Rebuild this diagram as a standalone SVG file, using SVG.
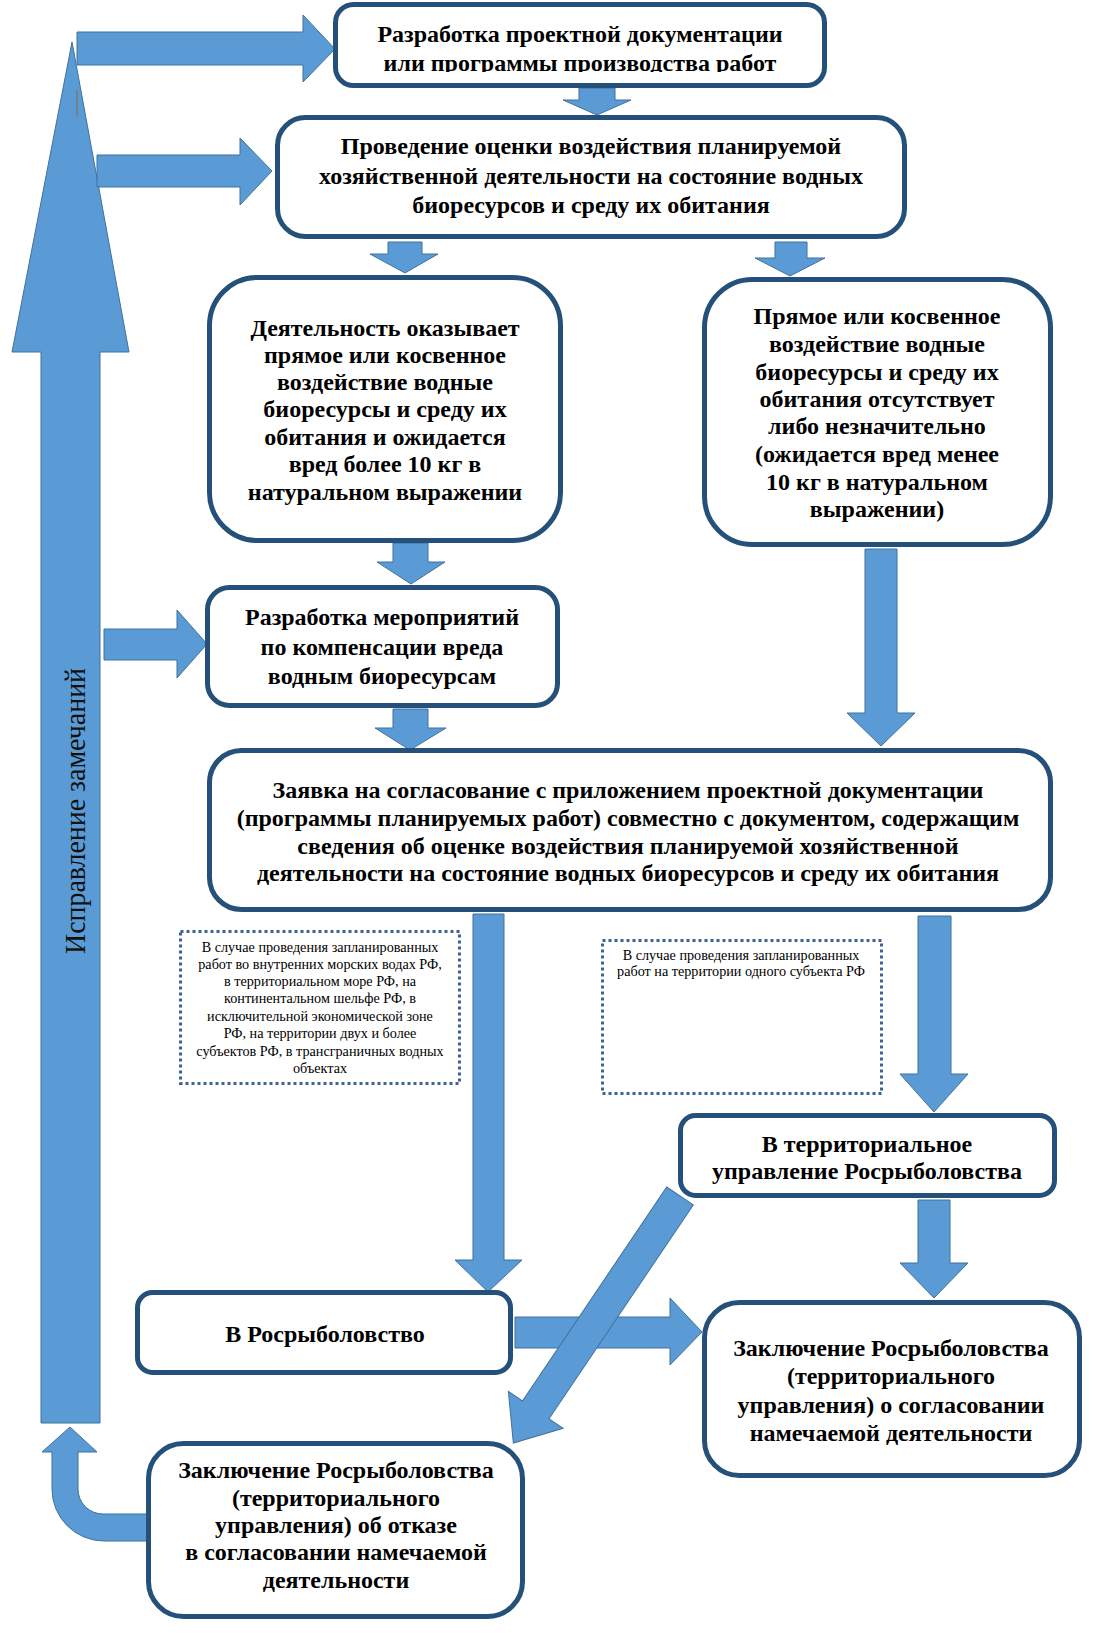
<svg xmlns="http://www.w3.org/2000/svg" width="1108" height="1633" viewBox="0 0 1108 1633">
<defs>
<style>
.box{fill:#fff;stroke:#24507a;stroke-width:5}
.arr{fill:#5b9bd5;stroke:#41719c;stroke-width:1}
.t{font-family:"Liberation Serif","Times New Roman",serif;font-weight:bold;font-size:24px;text-anchor:middle;fill:#000}
.s{font-family:"Liberation Serif","Times New Roman",serif;font-size:14.2px;text-anchor:middle;fill:#000}
.dot{fill:none;stroke:#3d6394;stroke-width:3;stroke-dasharray:3 3}
</style>
<clipPath id="c1"><rect x="330" y="0" width="500" height="72"/></clipPath>
</defs>
<rect width="1108" height="1633" fill="#fff"/>
<g id="connectors">
<polygon class="arr" points="72,42 129,352 100,352 100,1423 41,1423 41,352 12,352"/>
<text transform="translate(85,811) rotate(-90)" font-family="Liberation Serif, Times New Roman, serif" font-size="29" text-anchor="middle" fill="#111" textLength="286" lengthAdjust="spacingAndGlyphs">Исправление замечаний</text>
<line x1="77" y1="90" x2="77" y2="117" stroke="#8b6b4a" stroke-width="1"/>
<polygon class="arr" points="77,32 303,32 303,15 335,49 303,82 303,65 77,65"/>
<polygon class="arr" points="97,155 240,155 240,138 272,171 240,205 240,187 97,187"/>
<polygon class="arr" points="104,629 177,629 177,610 207,644 177,678 177,660 104,660"/>
<polygon class="arr" points="579,88 615,88 615,100 631,100 597,115 563,100 579,100"/>
<polygon class="arr" points="388,242 422,242 422,254 438,254 405,273 370,254 388,254"/>
<polygon class="arr" points="775,242 807,242 807,258 825,258 790,276 755,258 775,258"/>
<polygon class="arr" points="393,543 428,543 428,562 445,562 411,584 377,562 393,562"/>
<polygon class="arr" points="393,709 428,709 428,728 446,728 410,750 375,728 393,728"/>
<polygon class="arr" points="865,549 897,549 897,713 915,713 881,746 847,713 865,713"/>
<polygon class="arr" points="473,914 504,914 504,1260 522,1260 488,1292 455,1260 473,1260"/>
<polygon class="arr" points="918,916 951,916 951,1074 968,1074 934,1112 900,1074 918,1074"/>
<polygon class="arr" points="918,1200 950,1200 950,1263 968,1263 934,1298 900,1263 918,1263"/>
<polygon class="arr" points="515,1317 670,1317 670,1298 702,1332 670,1365 670,1348 515,1348"/>
<polygon class="arr" transform="translate(680,1196) rotate(124)" points="0,-16 258,-16 258,-33 298,0 258,33 258,16 0,16"/>
<path class="arr" d="M148,1514 L103,1514 A25,25 0 0 1 78,1489 L78,1452 L97,1452 L70,1427 L42,1452 L52,1452 L52,1489 A52,52 0 0 0 104,1541 L148,1541 Z"/>
</g>
<g id="n1">
<rect class="box" x="335.5" y="4.5" width="489" height="81" rx="18"/>
<text class="t" x="580" y="42">Разработка проектной документации</text>
<text class="t" x="580" y="71" clip-path="url(#c1)">или программы производства работ</text>
</g>
<g id="n2">
<rect class="box" x="277.5" y="117.5" width="627" height="119" rx="28"/>
<text class="t" x="591" y="154">Проведение оценки воздействия планируемой</text>
<text class="t" x="591" y="184">хозяйственной деятельности на состояние водных</text>
<text class="t" x="591" y="213">биоресурсов и среду их обитания</text>
</g>
<g id="n3">
<rect class="box" x="209.5" y="277.5" width="351" height="263" rx="48"/>
<text class="t" x="385" y="336">Деятельность оказывает</text>
<text class="t" x="385" y="363">прямое или косвенное</text>
<text class="t" x="385" y="390">воздействие водные</text>
<text class="t" x="385" y="417">биоресурсы и среду их</text>
<text class="t" x="385" y="445">обитания и ожидается</text>
<text class="t" x="385" y="472">вред более 10 кг в</text>
<text class="t" x="385" y="500">натуральном выражении</text>
</g>
<g id="n4">
<rect class="box" x="704.5" y="279.5" width="346" height="265" rx="48"/>
<text class="t" x="877" y="324">Прямое или косвенное</text>
<text class="t" x="877" y="352">воздействие водные</text>
<text class="t" x="877" y="380">биоресурсы и среду их</text>
<text class="t" x="877" y="407">обитания отсутствует</text>
<text class="t" x="877" y="434">либо незначительно</text>
<text class="t" x="877" y="462">(ожидается вред менее</text>
<text class="t" x="877" y="490">10 кг в натуральном</text>
<text class="t" x="877" y="517">выражении)</text>
</g>
<g id="n5">
<rect class="box" x="207.5" y="587.5" width="350" height="118" rx="22"/>
<text class="t" x="382" y="625">Разработка мероприятий</text>
<text class="t" x="382" y="655">по компенсации вреда</text>
<text class="t" x="382" y="684">водным биоресурсам</text>
</g>
<g id="n6">
<rect class="box" x="209.5" y="750.5" width="841" height="159" rx="32"/>
<text class="t" x="628" y="798">Заявка на согласование с приложением проектной документации</text>
<text class="t" x="628" y="826">(программы планируемых работ) совместно с документом, содержащим</text>
<text class="t" x="628" y="854">сведения об оценке воздействия планируемой хозяйственной</text>
<text class="t" x="628" y="881">деятельности на состояние водных биоресурсов и среду их обитания</text>
</g>
<g id="note1">
<rect class="dot" x="180.5" y="931.5" width="279" height="152"/>
<text class="s" x="320" y="952">В случае проведения запланированных</text>
<text class="s" x="320" y="969">работ во внутренних морских водах РФ,</text>
<text class="s" x="320" y="986">в территориальном море РФ, на</text>
<text class="s" x="320" y="1003">континентальном шельфе РФ, в</text>
<text class="s" x="320" y="1021">исключительной экономической зоне</text>
<text class="s" x="320" y="1038">РФ, на территории двух и более</text>
<text class="s" x="320" y="1056">субъектов РФ, в трансграничных водных</text>
<text class="s" x="320" y="1073">объектах</text>
</g>
<g id="note2">
<rect class="dot" x="602.5" y="940.5" width="279" height="153"/>
<text class="s" x="741" y="960">В случае проведения запланированных</text>
<text class="s" x="741" y="976">работ на территории одного субъекта РФ</text>
</g>
<g id="n7">
<rect class="box" x="680.5" y="1115.5" width="374" height="80" rx="15"/>
<text class="t" x="867" y="1152">В территориальное</text>
<text class="t" x="867" y="1179">управление Росрыболовства</text>
</g>
<g id="n8">
<rect class="box" x="137.5" y="1292.5" width="373" height="80" rx="15"/>
<text class="t" x="325" y="1342">В Росрыболовство</text>
</g>
<g id="n9">
<rect class="box" x="704.5" y="1302.5" width="375" height="173" rx="35"/>
<text class="t" x="891" y="1356">Заключение Росрыболовства</text>
<text class="t" x="891" y="1384">(территориального</text>
<text class="t" x="891" y="1413">управления) о согласовании</text>
<text class="t" x="891" y="1441">намечаемой деятельности</text>
</g>
<g id="n10">
<rect class="box" x="148.5" y="1443.5" width="374" height="173" rx="35"/>
<text class="t" x="336" y="1478">Заключение Росрыболовства</text>
<text class="t" x="336" y="1506">(территориального</text>
<text class="t" x="336" y="1533">управления) об отказе</text>
<text class="t" x="336" y="1560">в согласовании намечаемой</text>
<text class="t" x="336" y="1588">деятельности</text>
</g>
</svg>
